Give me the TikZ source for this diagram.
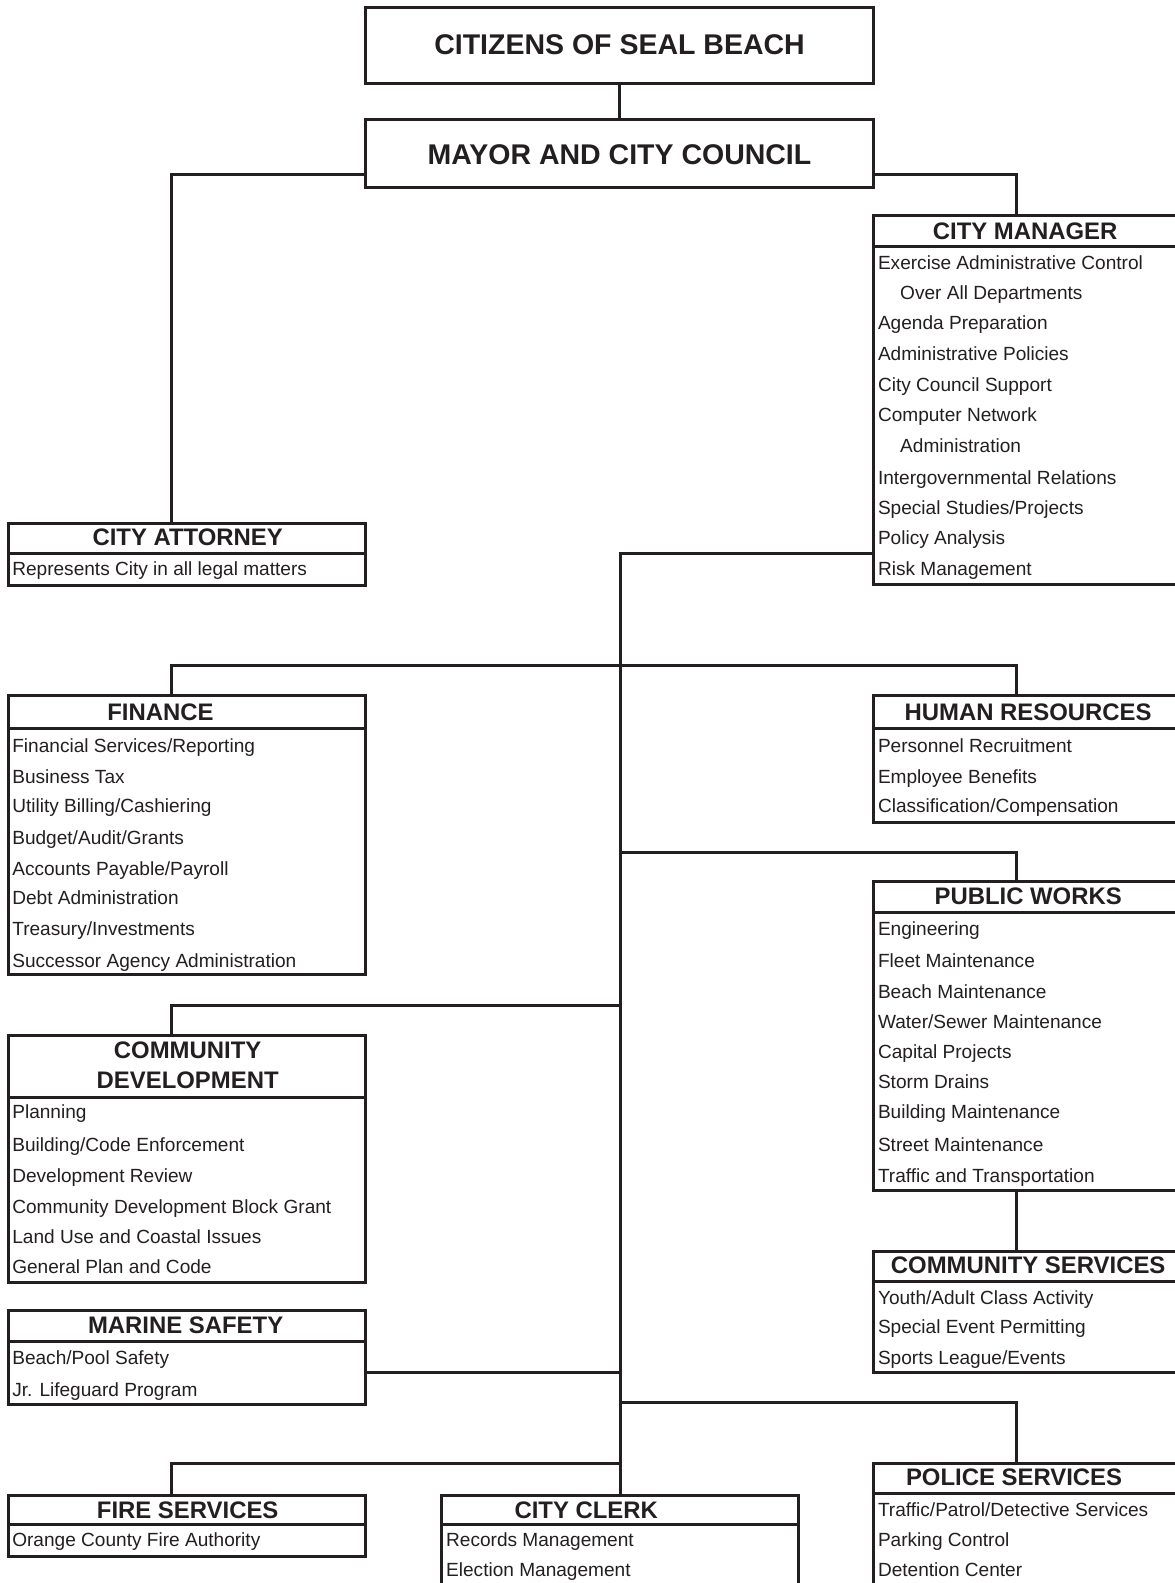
\documentclass[tikz,border=0pt]{standalone}
\usepackage{fontspec}
\setmainfont{Liberation Sans}
\usetikzlibrary{fit}
\definecolor{ink}{HTML}{231F20}
\begin{document}
\begin{tikzpicture}[x=1.009pt,y=-1.009pt,
 box/.style={draw=ink, line width=3pt, inner sep=0pt, rectangle},
 conn/.style={draw=ink, line width=3pt},
 sepline/.style={draw=ink, line width=3pt},
 toptext/.style={font=\fontsize{28.5}{30}\selectfont\bfseries, text=ink, inner sep=0pt, text height=20.4pt, text depth=0pt},
 head/.style={font=\fontsize{23.9}{26}\selectfont\bfseries, text=ink, inner sep=0pt, text height=17.1pt, text depth=0pt},
 item/.style={font=\fontsize{19.07}{21}\selectfont, text=ink, inner sep=0pt, anchor=west, text height=13.65pt, text depth=0pt}]
\useasboundingbox (0,0) rectangle (1164.5,1568.9);
\fill[white] (0,0) rectangle (1164.5,1568.9);

% boxes
\node[box, fit={(362,7) (866,83)}] (citizens) {};
\node[box, fit={(362,118) (866,186)}] (mayor) {};
\node[box, fit={(8,519) (362,580)}] (attorney) {};
\node[box, fit={(866,214) (1200,579)}] (manager) {};
\node[box, fit={(8,689) (362,966)}] (finance) {};
\node[box, fit={(866,689) (1200,815)}] (hr) {};
\node[box, fit={(866,874) (1200,1180)}] (works) {};
\node[box, fit={(8,1026) (362,1271)}] (commdev) {};
\node[box, fit={(866,1240) (1200,1360)}] (comserv) {};
\node[box, fit={(8,1299) (362,1392)}] (marine) {};
\node[box, fit={(866,1450) (1200,1620)}] (police) {};
\node[box, fit={(8,1482) (362,1543)}] (fire) {};
\node[box, fit={(438,1482) (791,1620)}] (clerk) {};

% header separators
\draw[sepline] (attorney.west |- 0,549) -- (attorney.east |- 0,549);
\draw[sepline] (manager.west |- 0,244) -- (manager.east |- 0,244);
\draw[sepline] (finance.west |- 0,722) -- (finance.east |- 0,722);
\draw[sepline] (hr.west |- 0,722) -- (hr.east |- 0,722);
\draw[sepline] (works.west |- 0,904) -- (works.east |- 0,904);
\draw[sepline] (commdev.west |- 0,1088) -- (commdev.east |- 0,1088);
\draw[sepline] (comserv.west |- 0,1270) -- (comserv.east |- 0,1270);
\draw[sepline] (marine.west |- 0,1330) -- (marine.east |- 0,1330);
\draw[sepline] (police.west |- 0,1480) -- (police.east |- 0,1480);
\draw[sepline] (fire.west |- 0,1511) -- (fire.east |- 0,1511);
\draw[sepline] (clerk.west |- 0,1511) -- (clerk.east |- 0,1511);

% junction coordinates
\coordinate (colL) at (170,0);
\coordinate (colR) at (1007,0);
\coordinate (h1) at (614,660);
\coordinate (h2) at (614,845);
\coordinate (h3) at (614,997);
\coordinate (h4) at (614,1360);
\coordinate (h5) at (614,1390);
\coordinate (h6) at (614,1450);

% connectors
\draw[conn] (citizens.south) -- (mayor.north);
\draw[conn] (mayor.west |- 0,173) -| (attorney.north -| colL);
\draw[conn] (mayor.east |- 0,173) -| (manager.north -| colR);
\draw[conn] (manager.west |- 0,549) -| (clerk.north);
\draw[conn] (finance.north -| colL) |- (h1) -| (hr.north -| colR);
\draw[conn] (h2) -| (works.north -| colR);
\draw[conn] (works.south -| colR) -- (comserv.north -| colR);
\draw[conn] (h3) -| (commdev.north -| colL);
\draw[conn] (marine.east |- h4) -- (h4);
\draw[conn] (h5) -| (police.north -| colR);
\draw[conn] (h6) -| (fire.north -| colL);

% titles
\node[toptext] (citizensT) at (614,44) {CITIZENS OF SEAL BEACH};
\node[toptext] (mayorT) at (614,153) {MAYOR AND CITY COUNCIL};
\node[head] (managerT) at (1016,229) {CITY MANAGER};
\node[head] (attorneyT) at (186,532) {CITY ATTORNEY};
\node[head] (financeT) at (159,706) {FINANCE};
\node[head] (hrT) at (1019,706) {HUMAN RESOURCES};
\node[head] (worksT) at (1019,888) {PUBLIC WORKS};
\node[head] (commdevT1) at (186,1041) {COMMUNITY};
\node[head] (commdevT2) at (186,1070) {DEVELOPMENT};
\node[head] (comservT) at (1019,1254) {COMMUNITY SERVICES};
\node[head] (marineT) at (184,1313) {MARINE SAFETY};
\node[head] (policeT) at (1005,1464) {POLICE SERVICES};
\node[head] (fireT) at (186,1496) {FIRE SERVICES};
\node[head] (clerkT) at (581,1496) {CITY CLERK};

% city manager items
\node[item] (mgr1) at (870,260) {Exercise Administrative Control};
\node[item] (mgr2) at (892,290) {Over All Departments};
\node[item] (mgr3) at (870,320) {Agenda Preparation};
\node[item] (mgr4) at (870,351) {Administrative Policies};
\node[item] (mgr5) at (870,381) {City Council Support};
\node[item] (mgr6) at (870,411) {Computer Network};
\node[item] (mgr7) at (892,442) {Administration};
\node[item] (mgr8) at (870,473) {Intergovernmental Relations};
\node[item] (mgr9) at (870,503) {Special Studies/Projects};
\node[item] (mgr10) at (870,533) {Policy Analysis};
\node[item] (mgr11) at (870,564) {Risk Management};

% city attorney
\node[item] (att1) at (12,564) {Represents City in all legal matters};

% finance
\node[item] (fin1) at (12,739) {Financial Services/Reporting};
\node[item] (fin2) at (12,770) {Business Tax};
\node[item] (fin3) at (12,798) {Utility Billing/Cashiering};
\node[item] (fin4) at (12,830) {Budget/Audit/Grants};
\node[item] (fin5) at (12,861) {Accounts Payable/Payroll};
\node[item] (fin6) at (12,890) {Debt Administration};
\node[item] (fin7) at (12,920) {Treasury/Investments};
\node[item] (fin8) at (12,952) {Successor Agency Administration};

% human resources
\node[item] (hr1) at (870,739) {Personnel Recruitment};
\node[item] (hr2) at (870,770) {Employee Benefits};
\node[item] (hr3) at (870,798) {Classification/Compensation};

% public works
\node[item] (pw1) at (870,920) {Engineering};
\node[item] (pw2) at (870,952) {Fleet Maintenance};
\node[item] (pw3) at (870,983) {Beach Maintenance};
\node[item] (pw4) at (870,1013) {Water/Sewer Maintenance};
\node[item] (pw5) at (870,1042) {Capital Projects};
\node[item] (pw6) at (870,1072) {Storm Drains};
\node[item] (pw7) at (870,1102) {Building Maintenance};
\node[item] (pw8) at (870,1134) {Street Maintenance};
\node[item] (pw9) at (870,1165) {Traffic and Transportation};

% community development
\node[item] (cd1) at (12,1102) {Planning};
\node[item] (cd2) at (12,1134) {Building/Code Enforcement};
\node[item] (cd3) at (12,1165) {Development Review};
\node[item] (cd4) at (12,1196) {Community Development Block Grant};
\node[item] (cd5) at (12,1226) {Land Use and Coastal Issues};
\node[item] (cd6) at (12,1255) {General Plan and Code};

% community services
\node[item] (cs1) at (870,1286) {Youth/Adult Class Activity};
\node[item] (cs2) at (870,1315) {Special Event Permitting};
\node[item] (cs3) at (870,1346) {Sports League/Events};

% marine safety
\node[item] (ms1) at (12,1346) {Beach/Pool Safety};
\node[item] (ms2) at (12,1377) {Jr. Lifeguard Program};

% police services
\node[item] (ps1) at (870,1496) {Traffic/Patrol/Detective Services};
\node[item] (ps2) at (870,1526) {Parking Control};
\node[item] (ps3) at (870,1556) {Detention Center};

% fire services
\node[item] (fs1) at (12,1526) {Orange County Fire Authority};

% city clerk
\node[item] (cc1) at (442,1526) {Records Management};
\node[item] (cc2) at (442,1556) {Election Management};
\end{tikzpicture}
\end{document}
